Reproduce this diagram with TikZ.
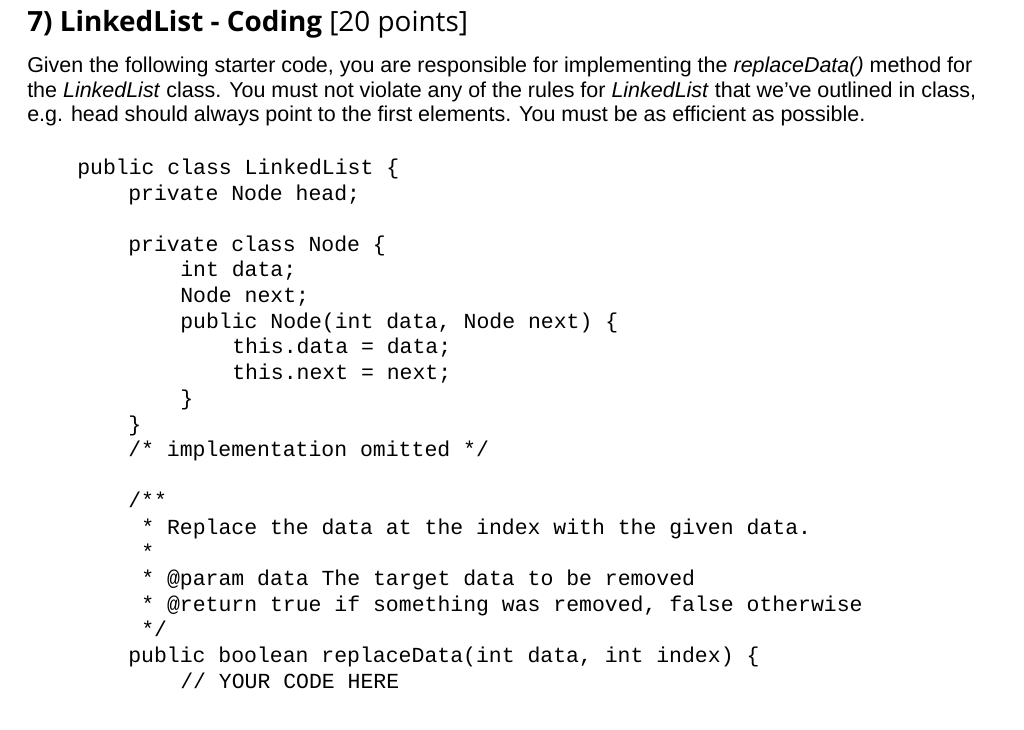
\documentclass[tikz,border=0pt]{standalone}
\usepackage{fontspec}
\setmainfont{Liberation Sans}
\newfontfamily\titlefont{Open Sans}
\newfontfamily\codefont{Liberation Mono}
\begin{document}
\begin{tikzpicture}[x=0.75pt,y=-0.75pt,
  body/.style={anchor=base west,inner sep=0pt,font=\fontsize{16.1}{19}\selectfont},
  code/.style={anchor=base west,inner sep=0pt,font=\codefont\fontsize{16.1}{18}\selectfont}]
\useasboundingbox[fill=white] (0,0) rectangle (1024,730);
\node[anchor=base west,inner sep=0pt,font=\titlefont\fontsize{20.9}{24}\selectfont] (t) at (27,32) {\textbf{7) LinkedList - Coding} [20 points]};
\node[body] (b1) at (27,73) {Given the following starter code, you are responsible for implementing the \textit{replaceData()} method for};
\node[body] (b2) at (27,98) {the \textit{LinkedList} class. You must not violate any of the rules for \textit{LinkedList} that we've outlined in class,};
\node[body] (b3) at (27,122) {e.g. head should always point to the first elements. You must be as efficient as possible.};
\def\L#1#2#3{\node[code] (c#1) at (#2,#1+7) {#3};}
\L{168}{77}{public class LinkedList \{}
\L{194}{128}{private Node head;}
\L{245}{128}{private class Node \{}
\L{270}{180}{int data;}
\L{296}{180}{Node next;}
\L{322}{180}{public Node(int data, Node next) \{}
\L{347}{232}{this.data = data;}
\L{373}{232}{this.next = next;}
\L{399}{180}{\}}
\L{425}{128}{\}}
\L{450}{128}{/* implementation omitted */}
\L{501}{128}{/**}
\L{527}{141}{* Replace the data at the index with the given data.}
\L{552}{141}{*}
\L{578}{141}{* @param data The target data to be removed}
\L{604}{141}{* @return true if something was removed, false otherwise}
\L{629}{141}{*/}
\L{655}{128}{public boolean replaceData(int data, int index) \{}
\L{681}{180}{// YOUR CODE HERE}
\end{tikzpicture}
\end{document}
